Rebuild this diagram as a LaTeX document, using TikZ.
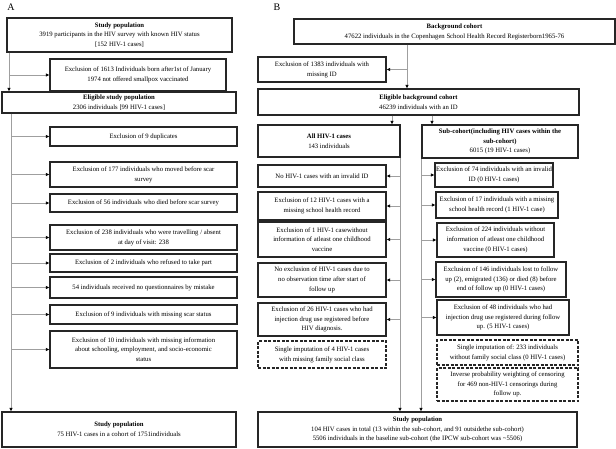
\documentclass[tikz,border=0pt]{standalone}
\usepackage{fontspec}
\setmainfont{Liberation Serif}
\usetikzlibrary{arrows.meta}

\tikzset{box/.style={draw=black!85,line width=1.1pt,align=center,inner sep=1pt,font=\fontsize{6.7}{9.8}\selectfont}}
\tikzset{dbox/.style={box,dash pattern=on 3pt off 1.5pt}}
\tikzset{sz/.style 2 args={minimum width=#1pt,minimum height=#2pt}}
\tikzset{link/.style={draw=gray!75,line width=0.8pt}}
\tikzset{arr/.style={link,-{Latex[length=3.5pt,width=3.5pt,color=black]}}}

\begin{document}
\begin{tikzpicture}[x=1pt, y=-1pt]
	\useasboundingbox (0,0) rectangle (616,448);
	
	% panel letters
	\node [font=\fontsize{10}{12}\selectfont] (lab-a) at (11,7) {A};
	\node [font=\fontsize{10}{12}\selectfont] (lab-b) at (277,7) {B};
	
	% ---- panel A
	\node [box, sz={225}{34}] (a-top) at (119.5,35)
	  {\textbf{Study population}\\3919 participants in the HIV survey with known HIV status\\{}[152 HIV-1 cases]};
	\node [box, sz={176}{32}] (a-born) at (138,75)
	  {Exclusion of 1613 Individuals born after1st of January\\1974 not offered smallpox vaccinated};
	\node [box, sz={234}{21}] (a-elig) at (119,102.5)
	  {\textbf{Eligible study population}\\2306 individuals [99 HIV-1 cases]};
	
	\foreach \y/\h/\t [count=\i] in {
	    136.5/19/{Exclusion of 9 duplicates},
	    174.5/25/{Exclusion of 177 individuals who moved before scar\\survey},
	    203/18/{Exclusion of 56 individuals who died before scar survey},
	    237.5/25/{Exclusion of 238 individuals who were travelling / absent\\at day of visit: 238},
	    263/18/{Exclusion of 2 individuals who refused to take part},
	    287.5/21/{54 individuals received no questionnaires by mistake},
	    314.5/19/{Exclusion of 9 individuals with missing scar status},
	    349.5/37/{Exclusion of 10 individuals with missing information\\about schooling, employment, and socio-economic\\status}}
	  \node [box, sz={187}{\h}] (a-ex-\i) at (143.5,\y) {\t};
	
	\node [box, sz={234}{35}] (a-final) at (119,429.5)
	  {\textbf{Study population}\\75 HIV-1 cases in a cohort of 1751individuals};
	
	\coordinate (a-stem) at (9,0);
	\coordinate (a-trunk) at (11,0);
	
	% top -> eligible
	\draw [arr] (a-top.south -| a-stem) -- (a-elig.north -| a-stem);
	\draw [arr] (a-born.west -| a-stem) -- (a-born.west);
	
	% eligible -> final
	\draw [arr] (a-elig.south -| a-trunk) -- (a-final.north -| a-trunk);
	\foreach \i in {1,...,8}
	  \draw [arr] (a-ex-\i.west -| a-trunk) -- (a-ex-\i.west);
	
	% ---- panel B
	\node [box, sz={321}{25}] (b-bg) at (454.5,31.5)
	  {\textbf{Background cohort}\\47622 individuals in the Copenhagen School Health Record Registerborn1965-76};
	\node [box, sz={128}{25}] (b-noid) at (322,69.5)
	  {Exclusion of 1383 individuals with\\missing ID};
	\node [box, sz={321}{26}] (b-elig) at (418.5,102)
	  {\textbf{Eligible background cohort}\\46239 individuals with an ID};
	\node [box, sz={142}{32}] (b-hiv) at (329,141)
	  {\textbf{All HIV-1 cases}\\143 individuals};
	\node [box, sz={156}{33}] (b-sub) at (500,141.5)
	  {\textbf{Sub-cohort(including HIV cases within the}\\\textbf{sub-cohort)}\\6015 (19 HIV-1 cases)};
	
	% all cases column
	\foreach \y/\h/\t [count=\i] in {
	    176/22/{No HIV-1 cases with an invalid ID},
	    206/28/{Exclusion of 12 HIV-1 cases with a\\missing school health record},
	    239.5/35/{Exclusion of 1 HIV-1 casewithout\\information of atleast one childhood\\vaccine},
	    280/34/{No exclusion of HIV-1 cases due to\\no observation time after start of\\follow up},
	    319.5/33/{Exclusion of 26 HIV-1 cases who had\\injection drug use registered before\\HIV diagnosis.}}
	  \node [box, sz={128}{\h}] (b-l-\i) at (322,\y) {\t};
	\node [dbox, sz={128}{27}] (b-l-imp) at (322,354.5)
	  {Single imputation of 4 HIV-1 cases\\with missing family social class};
	
	% sub-cohort column
	\foreach \x/\y/\w/\h/\t [count=\i] in {
	    494/175/118/24/{Exclusion of 74 individuals with an invalid\\ID (0 HIV-1 cases)},
	    497/205/122/26/{Exclusion of 17 individuals with a missing\\school health record (1 HIV-1 case)},
	    495.5/240/117/34/{Exclusion of 224 individuals without\\information of atleast one childhood\\vaccine (0 HIV-1 cases)},
	    501/279.5/130/35/{Exclusion of 146 individuals lost to follow\\up (2), emigrated (136) or died (8) before\\end of follow up (0 HIV-1 cases)},
	    503/317.5/132/35/{Exclusion of 48 individuals who had\\injection drug use registered during follow\\up. (5 HIV-1 cases)}}
	  \node [box, sz={\w}{\h}] (b-r-\i) at (\x,\y) {\t};
	\node [dbox, sz={141}{25}] (b-r-imp) at (507.5,352.5)
	  {Single imputation of: 233 individuals\\without family social class (0 HIV-1 cases)};
	\node [dbox, sz={141}{33}] (b-r-ipw) at (507.5,384.5)
	  {Inverse probability weighting of censoring\\for 469 non-HIV-1 censorings during\\follow up.};
	
	\node [box, sz={319}{35}] (b-final) at (417.5,429.5)
	  {\textbf{Study population}\\104 HIV cases in total (13 within the sub-cohort, and 91 outsidethe sub-cohort)\\5506 individuals in the baseline sub-cohort (the IPCW sub-cohort was \textasciitilde5506)};
	
	\coordinate (b-stem) at (407,0);
	\coordinate (b-split-l) at (392,0);
	\coordinate (b-split-r) at (432,0);
	\coordinate (b-trunk-l) at (400,0);
	\coordinate (b-trunk-r) at (421,0);
	
	% background -> eligible
	\draw [arr] (b-bg.south -| b-stem) -- (b-elig.north -| b-stem);
	\draw [arr] (b-noid.east -| b-stem) -- (b-noid.east);
	
	% eligible -> two groups
	\draw [arr] (b-elig.south -| b-split-l) -- (b-hiv.north -| b-split-l);
	\draw [arr] (b-elig.south -| b-split-r) -- (b-sub.north -| b-split-r);
	
	% groups -> final
	\draw [arr] (b-hiv.south -| b-trunk-l) -- (b-final.north -| b-trunk-l);
	\draw [arr] (b-sub.south -| b-trunk-r) -- (b-final.north -| b-trunk-r);
	\foreach \i in {1,...,5}
	  \draw [arr] (b-l-\i.east -| b-trunk-l) -- (b-l-\i.east);
	\foreach \i in {1,...,5}
	  \draw [arr] (b-r-\i.west -| b-trunk-r) -- (b-r-\i.west);
	
\end{tikzpicture}
\end{document}
